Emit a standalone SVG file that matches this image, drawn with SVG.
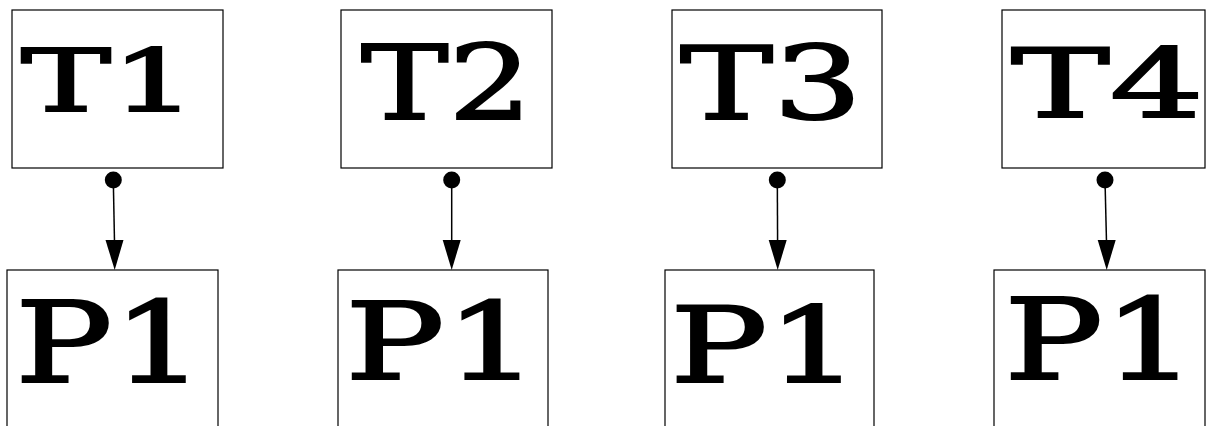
<svg xmlns="http://www.w3.org/2000/svg" width="1206" height="426" viewBox="0 0 1206 426">
  <defs>
    <style>
      .box { fill: #ffffff; stroke: #000000; stroke-width: 1.2; }
      .lbl { font-family: "DejaVu Serif", serif; fill: #000000; stroke: #000000; stroke-width: 2; stroke-linejoin: miter; }
      .edge { stroke: #000000; stroke-width: 1.5; fill: none; }
      .dot { fill: #000000; }
      .head { fill: #000000; }
    </style>
  </defs>
  <rect width="1206" height="426" fill="#ffffff"/>

  <!-- task nodes -->
  <g id="T1">
    <rect class="box" x="12" y="10" width="211" height="158"/>
    <text class="lbl" x="21" y="110.7" font-size="85.5" textLength="176" lengthAdjust="spacingAndGlyphs">T1</text>
  </g>
  <g id="T2">
    <rect class="box" x="341" y="10" width="211" height="158"/>
    <text class="lbl" x="361" y="119" font-size="102.5" textLength="171" lengthAdjust="spacingAndGlyphs">T2</text>
  </g>
  <g id="T3">
    <rect class="box" x="672" y="10" width="210" height="158"/>
    <text class="lbl" x="680" y="119" font-size="100.5" textLength="182" lengthAdjust="spacingAndGlyphs">T3</text>
  </g>
  <g id="T4">
    <rect class="box" x="1002" y="10" width="203" height="158"/>
    <text class="lbl" x="1011" y="117.3" font-size="95.5" textLength="193" lengthAdjust="spacingAndGlyphs">T4</text>
  </g>

  <!-- P1 nodes -->
  <g id="P1a">
    <rect class="box" x="7" y="270" width="211" height="170"/>
    <text class="lbl" x="15" y="382.3" font-size="111.5" textLength="190" lengthAdjust="spacingAndGlyphs">P1</text>
  </g>
  <g id="P1b">
    <rect class="box" x="338" y="270" width="210" height="170"/>
    <text class="lbl" x="345" y="379" font-size="106.5" textLength="194" lengthAdjust="spacingAndGlyphs">P1</text>
  </g>
  <g id="P1c">
    <rect class="box" x="665" y="270" width="209" height="170"/>
    <text class="lbl" x="670" y="382.3" font-size="104.5" textLength="190" lengthAdjust="spacingAndGlyphs">P1</text>
  </g>
  <g id="P1d">
    <rect class="box" x="994" y="270" width="211" height="170"/>
    <text class="lbl" x="1004" y="379" font-size="111.5" textLength="193" lengthAdjust="spacingAndGlyphs">P1</text>
  </g>

  <!-- connectors: dot tail, filled arrowhead -->
  <g id="edges">
    <circle class="dot" cx="113.3" cy="180" r="8.5"/>
    <line class="edge" x1="113.3" y1="180" x2="114.5" y2="242"/>
    <polygon class="head" points="105.5,240 123.5,240 114.7,270"/>

    <circle class="dot" cx="451.7" cy="180" r="8.5"/>
    <line class="edge" x1="451.7" y1="180" x2="451.7" y2="242"/>
    <polygon class="head" points="442.7,240 460.7,240 451.7,270"/>

    <circle class="dot" cx="777.3" cy="180" r="8.5"/>
    <line class="edge" x1="777.3" y1="180" x2="777.6" y2="242"/>
    <polygon class="head" points="768.7,240 786.7,240 777.7,270"/>

    <circle class="dot" cx="1105" cy="180" r="8.5"/>
    <line class="edge" x1="1105" y1="180" x2="1106.5" y2="242"/>
    <polygon class="head" points="1097.7,240 1115.7,240 1106.7,270"/>
  </g>
</svg>
